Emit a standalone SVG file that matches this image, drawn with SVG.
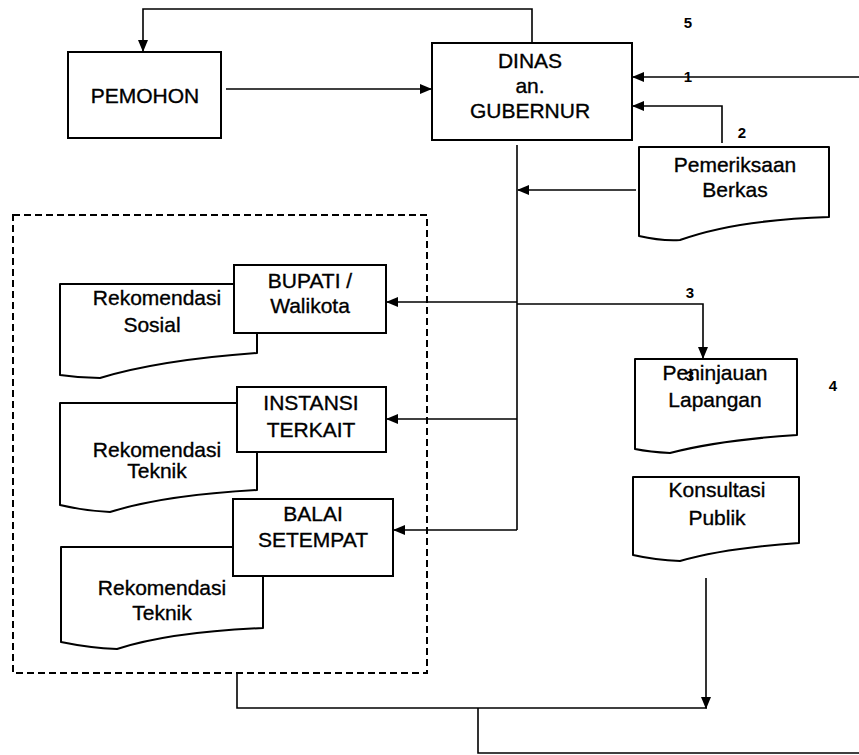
<svg xmlns="http://www.w3.org/2000/svg" width="859" height="755" viewBox="0 0 859 755">
<style>
.box{fill:#fff;stroke:#000;stroke-width:2}
.doc{fill:#fff;stroke:#000;stroke-width:2;stroke-linejoin:round}
.ln{fill:none;stroke:#000;stroke-width:1.6}
.t{font-family:"Liberation Sans",Arial,sans-serif;font-size:21px;fill:#000;stroke:#000;stroke-width:0.35;text-anchor:middle}
.n{font-family:"Liberation Sans",Arial,sans-serif;font-size:15px;font-weight:bold;fill:#000;text-anchor:middle}
</style>
<defs>
<marker id="ah" markerWidth="12" markerHeight="10" refX="11" refY="5" orient="auto" markerUnits="userSpaceOnUse">
<path d="M0,0 L12,5 L0,10 Z" fill="#000"/>
</marker>
</defs>
<rect width="859" height="755" fill="#fff"/>
<g id="group-box"><rect x="13" y="215" width="414" height="458" fill="none" stroke="#000" stroke-width="2" stroke-dasharray="7,4"/></g>
<g id="connectors">
<polyline class="ln" points="532,42 532,9 143,9 143,51" marker-end="url(#ah)"/>
<line class="ln" x1="226" y1="89" x2="431" y2="89" marker-end="url(#ah)"/>
<line class="ln" x1="859" y1="77" x2="633" y2="77" marker-end="url(#ah)"/>
<polyline class="ln" points="722,143 722,106 633,106" marker-end="url(#ah)"/>
<line class="ln" x1="636" y1="190" x2="518" y2="190" marker-end="url(#ah)"/>
<line class="ln" x1="517" y1="145" x2="517" y2="530"/>
<line class="ln" x1="517" y1="302" x2="387" y2="302" marker-end="url(#ah)"/>
<polyline class="ln" points="517,304 703,304 703,358" marker-end="url(#ah)"/>
<line class="ln" x1="517" y1="419" x2="387" y2="419" marker-end="url(#ah)"/>
<line class="ln" x1="517" y1="530" x2="394" y2="530" marker-end="url(#ah)"/>
<line class="ln" x1="706" y1="578" x2="706" y2="708" marker-end="url(#ah)"/>
<polyline class="ln" points="237,673 237,708 707,708"/>
<polyline class="ln" points="478,708 478,753 859,753"/>
</g>
<g id="pemohon"><rect class="box" x="68" y="52" width="153" height="86"/><text class="t" x="145" y="103">PEMOHON</text></g>
<g id="dinas"><rect class="box" x="432" y="43" width="200" height="97"/><text class="t" x="530" y="68">DINAS</text><text class="t" x="530" y="93">an.</text><text class="t" x="530" y="118">GUBERNUR</text></g>
<g id="pemeriksaan"><path class="doc" d="M639,147 H829 V217 Q735,220 680,240 Q660,241 639,236 Z"/><text class="t" x="735" y="172">Pemeriksaan</text><text class="t" x="735" y="197">Berkas</text></g>
<g id="rek-sosial"><path class="doc" d="M60,284 H257 V353 Q160,360 100,378 Q80,378 60,375 Z"/><text class="t" x="157" y="305">Rekomendasi</text><text class="t" x="152" y="332">Sosial</text></g>
<g id="bupati"><rect class="box" x="234" y="265" width="152" height="68"/><text class="t" x="310" y="288">BUPATI /</text><text class="t" x="310" y="313">Walikota</text></g>
<g id="rek-teknik-1"><path class="doc" d="M60,403 H257 V490 Q165,495 110,512 Q85,511 60,505 Z"/><text class="t" x="157" y="457">Rekomendasi</text><text class="t" x="157" y="478">Teknik</text></g>
<g id="instansi"><rect class="box" x="237" y="387" width="149" height="65"/><text class="t" x="311" y="410">INSTANSI</text><text class="t" x="311" y="437">TERKAIT</text></g>
<g id="rek-teknik-2"><path class="doc" d="M61,547 H263 V628 Q170,632 117,649 Q90,648 61,642 Z"/><text class="t" x="162" y="595">Rekomendasi</text><text class="t" x="162" y="620">Teknik</text></g>
<g id="balai"><rect class="box" x="233" y="499" width="160" height="77"/><text class="t" x="313" y="521">BALAI</text><text class="t" x="313" y="547">SETEMPAT</text></g>
<g id="peninjauan"><path class="doc" d="M635,359 H797 V435 Q720,440 670,453 Q650,452 635,449 Z"/><text class="t" x="715" y="380">Peninjauan</text><text class="t" x="715" y="407">Lapangan</text></g>
<g id="konsultasi"><path class="doc" d="M633,477 H799 V543 Q725,548 680,561 Q655,560 633,555 Z"/><text class="t" x="717" y="497">Konsultasi</text><text class="t" x="717" y="525">Publik</text></g>
<g id="labels">
<text class="n" x="688" y="28">5</text>
<text class="n" x="688" y="82">1</text>
<text class="n" x="742" y="138">2</text>
<text class="n" x="690" y="298">3</text>
<text class="n" x="690" y="381">3</text>
<text class="n" x="833" y="391">4</text>
</g>
</svg>
